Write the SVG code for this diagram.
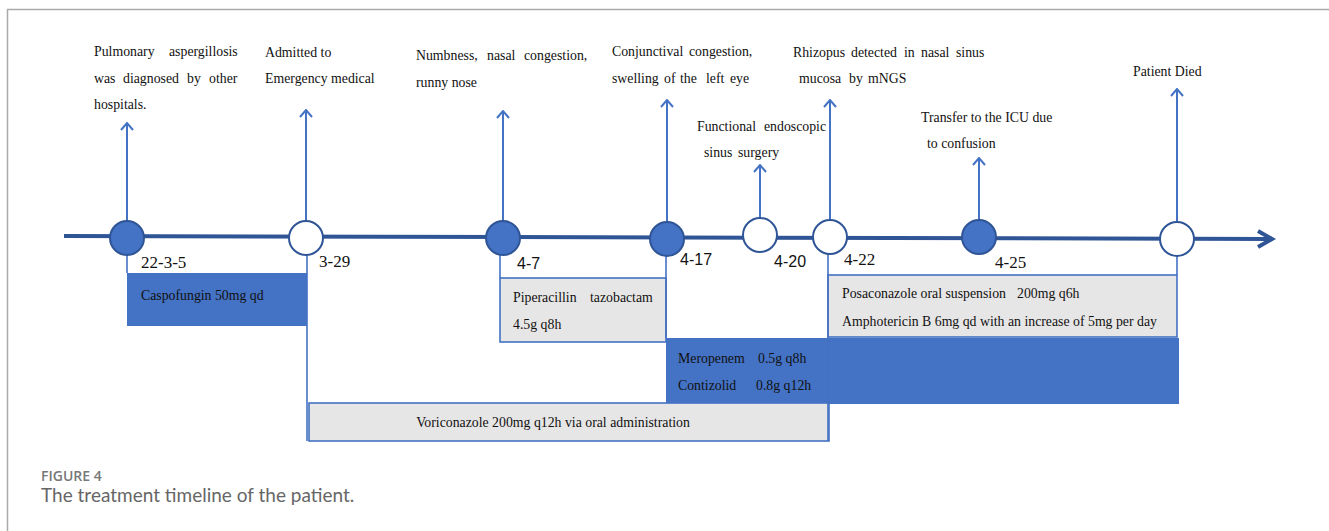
<svg xmlns="http://www.w3.org/2000/svg" width="1329" height="531" viewBox="0 0 1329 531">
<style>
.t{font-family:"Liberation Serif","Times New Roman",serif;font-size:13.8px;fill:#111}
.d{font-family:"Liberation Serif","Times New Roman",serif;font-size:17px;fill:#111}
.ds{font-family:"Liberation Sans",Arial,sans-serif;font-size:16px;fill:#111}
.stem{stroke:#4472c4;stroke-width:2;fill:none}
.drop{stroke:#4472c4;stroke-width:1.6;fill:none}
.cf{fill:#4472c4;stroke:#2f5597;stroke-width:2}
.co{fill:#fff;stroke:#2f5597;stroke-width:2}
.gbox{fill:#e7e6e6;stroke:#4472c4;stroke-width:1.6}
.bbox{fill:#4472c4;stroke:none}
</style>
<defs>
<marker id="up" markerWidth="14" markerHeight="14" refX="7" refY="1" orient="0" markerUnits="userSpaceOnUse">
<path d="M1,8 L7,1 L13,8" fill="none" stroke="#4472c4" stroke-width="2"/>
</marker>
</defs>
<rect x="0" y="0" width="1329" height="531" fill="#fff"/>
<path d="M7.5,531 V9.5 H1329" fill="none" stroke="#aaa" stroke-width="1.5"/>

<g id="bars">
<rect class="bbox" x="127" y="273" width="180" height="53"/>
<rect class="bbox" x="666" y="338" width="513" height="66"/>
<rect class="gbox" x="309" y="403" width="520" height="38"/>
<rect class="gbox" x="500" y="278" width="166" height="64"/>
<rect class="gbox" x="828" y="275" width="349" height="62"/>
</g>

<g id="connectors">
<line x1="64" y1="236" x2="1272" y2="239" stroke="#2f5597" stroke-width="4"/>
<path d="M1258,231 L1272,239 L1258,247" fill="none" stroke="#2f5597" stroke-width="4"/>
<line class="stem" x1="127" y1="238" x2="127" y2="123" marker-end="url(#up)"/>
<line class="stem" x1="306" y1="238" x2="306" y2="110" marker-end="url(#up)"/>
<line class="stem" x1="503" y1="238" x2="503" y2="111" marker-end="url(#up)"/>
<line class="stem" x1="667" y1="239" x2="667" y2="100" marker-end="url(#up)"/>
<line class="stem" x1="760" y1="235" x2="760" y2="165" marker-end="url(#up)"/>
<line class="stem" x1="830" y1="237" x2="830" y2="100" marker-end="url(#up)"/>
<line class="stem" x1="979" y1="237" x2="979" y2="158" marker-end="url(#up)"/>
<line class="stem" x1="1177" y1="239" x2="1177" y2="89" marker-end="url(#up)"/>
<line class="drop" x1="127" y1="250" x2="127" y2="273"/>
<line class="drop" x1="307" y1="250" x2="307" y2="441"/>
<line class="drop" x1="500" y1="250" x2="500" y2="278"/>
<line class="drop" x1="666" y1="250" x2="666" y2="338"/>
<line class="drop" x1="828" y1="250" x2="828" y2="441"/>
<line class="drop" x1="1177" y1="250" x2="1177" y2="275"/>
</g>

<g id="n1"><circle class="cf" cx="127" cy="238" r="17"/>
<text class="t"><tspan x="94" y="56">Pulmonary</tspan><tspan x="169" y="56">aspergillosis</tspan><tspan x="94" y="83">was</tspan><tspan x="123" y="83">diagnosed</tspan><tspan x="187" y="83">by</tspan><tspan x="209" y="83">other</tspan><tspan x="94" y="109">hospitals.</tspan></text>
<text class="d" x="141" y="268">22-3-5</text></g>

<g id="n2"><circle class="co" cx="306" cy="238" r="17"/>
<text class="t"><tspan x="265" y="57">Admitted to</tspan><tspan x="265" y="83">Emergency medical</tspan></text>
<text class="d" x="319" y="267">3-29</text></g>

<g id="n3"><circle class="cf" cx="503" cy="238" r="17"/>
<text class="t"><tspan x="416" y="60">Numbness,</tspan><tspan x="487" y="60">nasal</tspan><tspan x="524" y="60">congestion,</tspan><tspan x="416" y="87">runny nose</tspan></text>
<text class="ds" x="517" y="269">4-7</text></g>

<g id="n4"><circle class="cf" cx="667" cy="239" r="17"/>
<text class="t"><tspan x="612" y="56">Conjunctival</tspan><tspan x="689" y="56">congestion,</tspan><tspan x="612" y="83">swelling</tspan><tspan x="664" y="83">of</tspan><tspan x="680" y="83">the</tspan><tspan x="706" y="83">left</tspan><tspan x="730" y="83">eye</tspan></text>
<text class="ds" x="680" y="265">4-17</text></g>

<g id="n5"><circle class="co" cx="760" cy="235" r="17"/>
<text class="t"><tspan x="697" y="131">Functional</tspan><tspan x="764" y="131">endoscopic</tspan><tspan x="704" y="157">sinus</tspan><tspan x="738" y="157">surgery</tspan></text>
<text class="ds" x="774" y="267">4-20</text></g>

<g id="n6"><circle class="co" cx="830" cy="237" r="17"/>
<text class="t"><tspan x="793" y="57">Rhizopus</tspan><tspan x="851" y="57">detected</tspan><tspan x="904" y="57">in</tspan><tspan x="921" y="57">nasal</tspan><tspan x="956" y="57">sinus</tspan><tspan x="799" y="83">mucosa</tspan><tspan x="849" y="83">by</tspan><tspan x="868" y="83">mNGS</tspan></text>
<text class="d" x="844" y="265">4-22</text></g>

<g id="n7"><circle class="cf" cx="979" cy="237" r="17"/>
<text class="t"><tspan x="921" y="122">Transfer to the ICU due</tspan><tspan x="927" y="148">to confusion</tspan></text>
<text class="d" x="995" y="268">4-25</text></g>

<g id="n8"><circle class="co" cx="1177" cy="239" r="17"/>
<text class="t" x="1133" y="76">Patient Died</text></g>

<g id="drugs">
<text class="t" x="141" y="300">Caspofungin 50mg qd</text>
<text class="t"><tspan x="513" y="302">Piperacillin</tspan><tspan x="590" y="302">tazobactam</tspan><tspan x="513" y="329">4.5g q8h</tspan></text>
<text class="t"><tspan x="678" y="363">Meropenem</tspan><tspan x="758" y="363">0.5g q8h</tspan><tspan x="678" y="390">Contizolid</tspan><tspan x="756" y="390">0.8g q12h</tspan></text>
<text class="t"><tspan x="842" y="298">Posaconazole oral suspension</tspan><tspan x="1017" y="298">200mg q6h</tspan><tspan x="842" y="326">Amphotericin B 6mg qd with an increase of 5mg per day</tspan></text>
<text class="t" x="553" y="427" text-anchor="middle">Voriconazole 200mg q12h via oral administration</text>
</g>

<g id="caption">
<text x="41" y="481" font-family="'Open Sans',sans-serif" font-size="14" font-weight="600" fill="#777">FIGURE 4</text>
<text x="41" y="502" font-family="Lato,'Open Sans',sans-serif" font-size="19" fill="#666">The treatment timeline of the patient.</text>
</g>
</svg>
